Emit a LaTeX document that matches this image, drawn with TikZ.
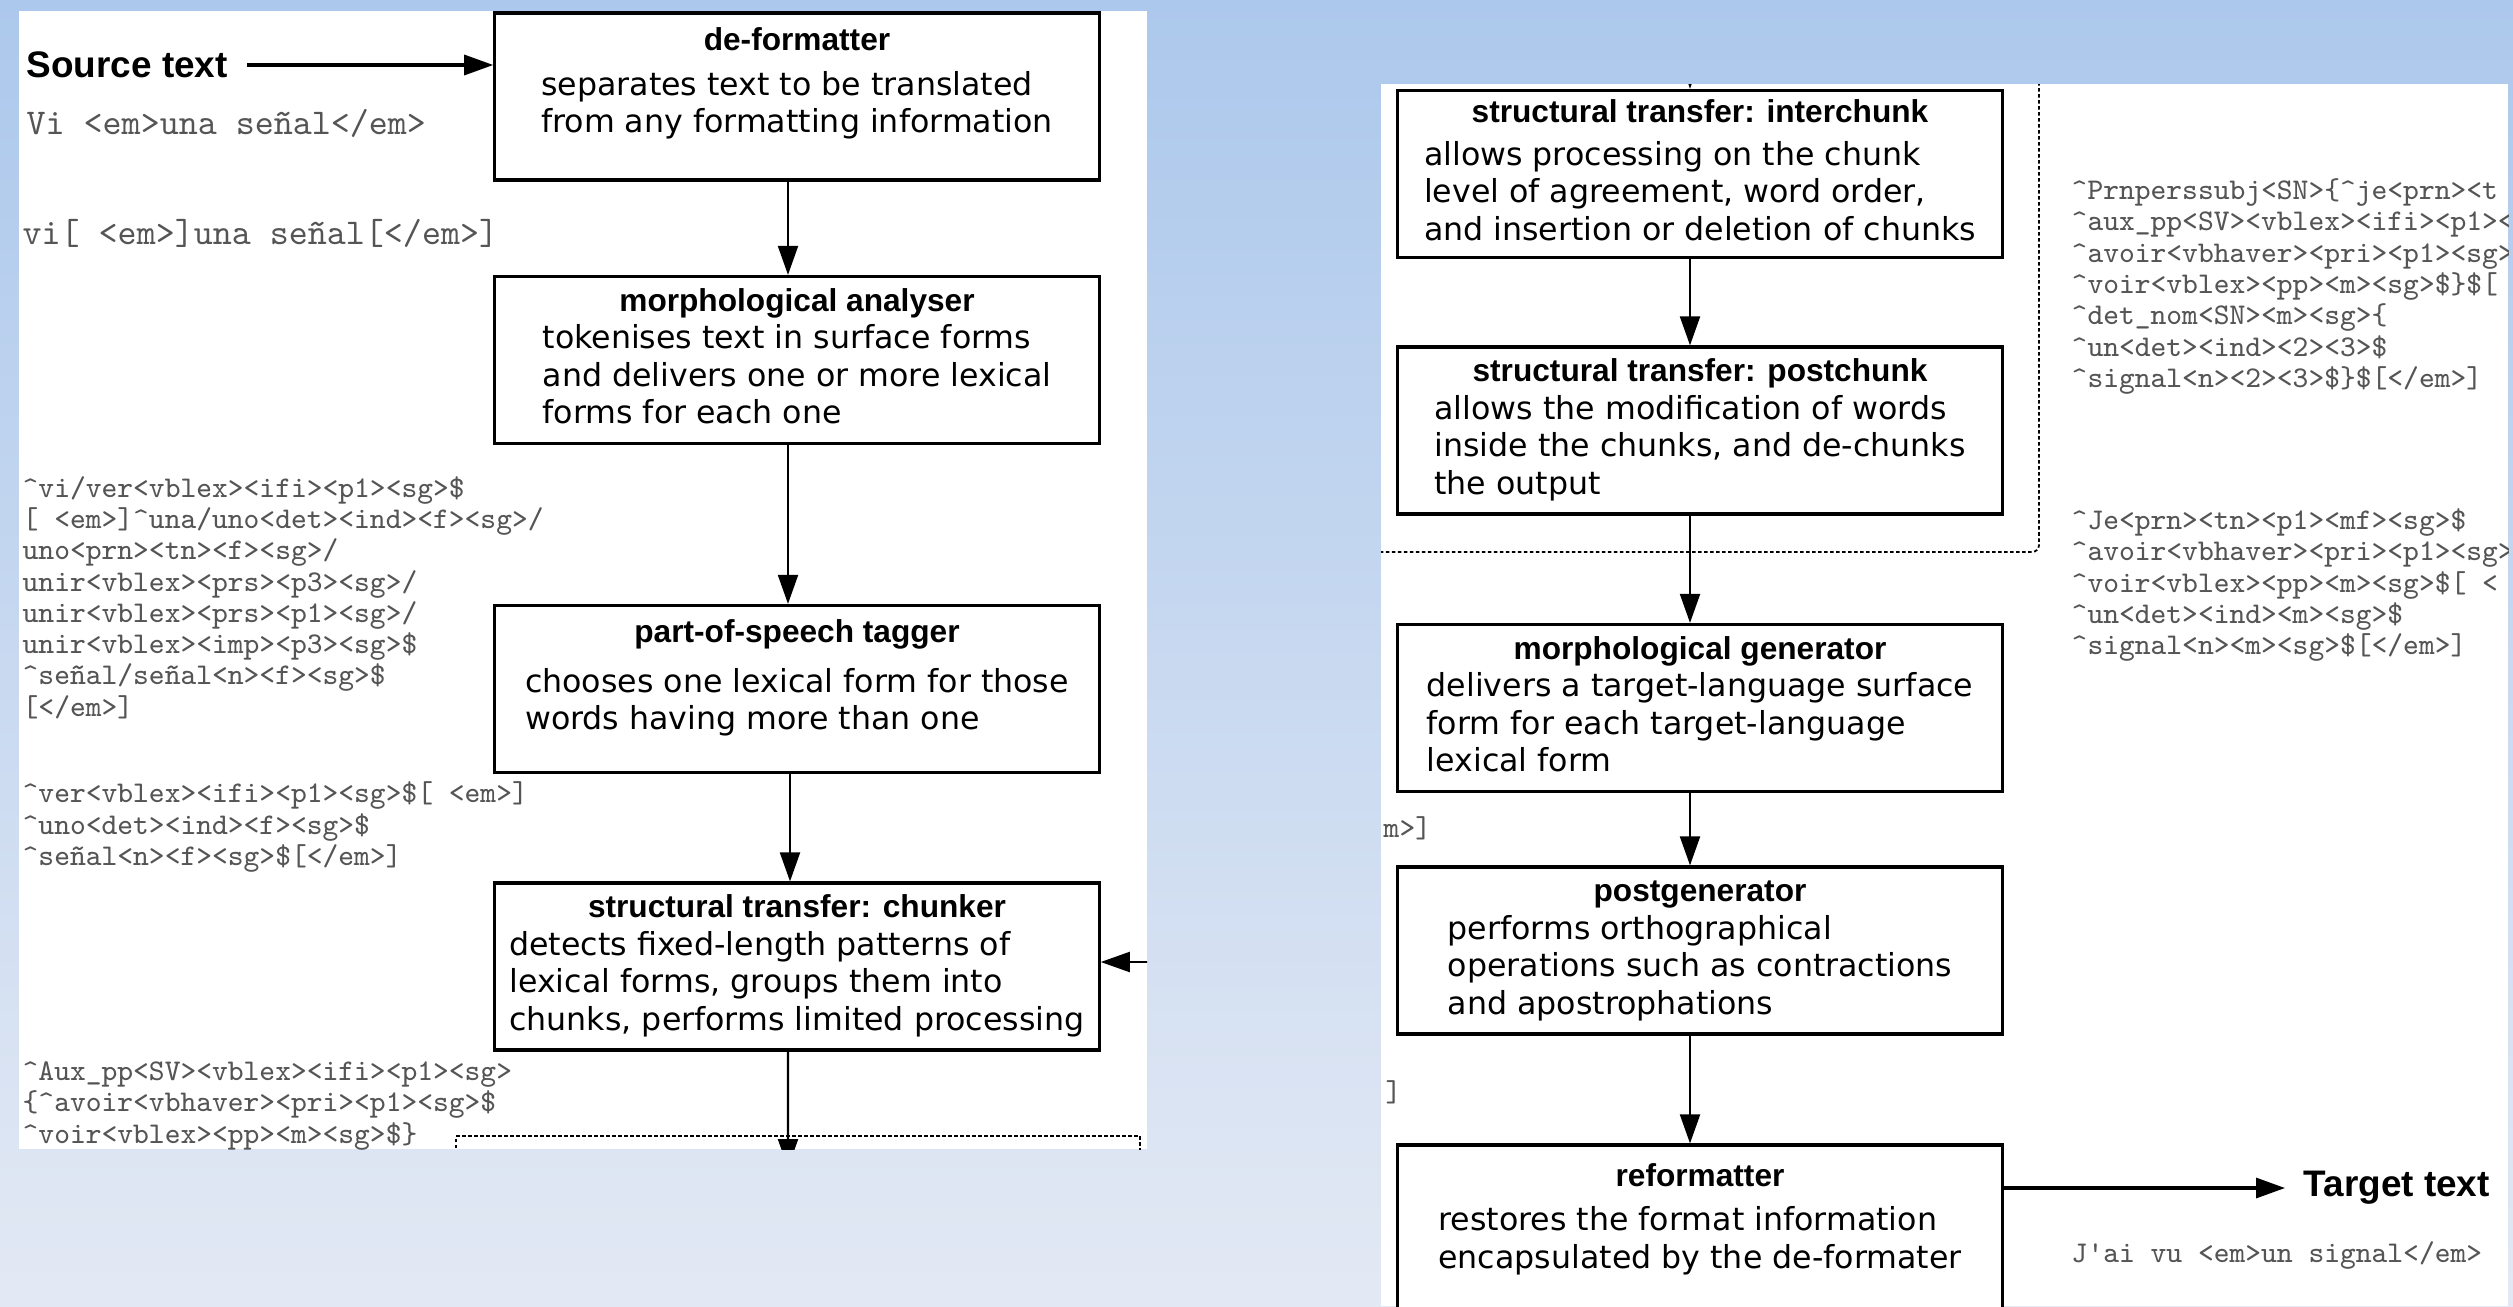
\documentclass[tikz,border=0pt]{standalone}
\usepackage{fontspec}
\setmainfont{DejaVu Sans}
\newfontfamily\titlefont{Liberation Sans}
\usetikzlibrary{arrows.meta}
\definecolor{bgtop}{RGB}{172,200,236}
\definecolor{bgbottom}{RGB}{227,233,244}
\definecolor{codegray}{RGB}{85,85,85}
\tikzstyle{process} = [rectangle, minimum width=6.04cm, minimum height=1.67cm, draw=black, line width=0.9pt, fill=white, inner sep=0pt, font=\fontsize{9pt}{10.7pt}\selectfont]
\tikzstyle{arrow} = [line width=0.6pt, -{Triangle[length=0.29cm,width=0.2cm]}]
\tikzstyle{bigarrow} = [arrow, line width=0.9pt]
\tikzstyle{endtext} = [font=\titlefont\bfseries\fontsize{10.5pt}{12pt}\selectfont, inner xsep=0.18cm, inner ysep=0pt]
\tikzstyle{stream} = [anchor=west, inner sep=0pt, align=left, text=codegray, font=\ttfamily\fontsize{8.55pt}{8.9pt}\selectfont]
\tikzstyle{sample} = [stream, font=\ttfamily\fontsize{10.3pt}{12pt}\selectfont]
\tikzstyle{border} = [line width=0.5pt, dash pattern=on 0.035cm off 0.025cm]
\newcommand{\crt}{\textasciicircum}
\newcommand{\stagetext}[3][0pt]{\begin{tabular}{@{}l@{}}\multicolumn{1}{@{}c@{}}{\titlefont\bfseries #2}\\[#1]#3\end{tabular}}

\begin{document}
\begin{tikzpicture}[x=0.01cm, y=-0.01cm]
	\useasboundingbox (0,0) rectangle (2513,1306);
	\shade[top color=bgtop, bottom color=bgbottom] (0,0) rectangle (2513,1306);
	\fill[white] (19,11) rectangle (1147,1149);
	\fill[white] (1381,84) rectangle (2508,1306);
	
	% first half of the pipeline
	\begin{scope}
	\clip (19,11) rectangle (1147,1149);
	\node(srctext) [endtext, anchor=west] at (8,65) {Source text};
	\node(deformatter) [process] at (797,96.5) {\stagetext[2pt]{de-formatter}{separates text to be translated\\from any formatting information\\[7pt]}};
	\node(analyser) [process] at (797,360) {\stagetext{morphological analyser}{tokenises text in surface forms\\and delivers one or more lexical\\forms for each one}};
	\node(tagger) [process] at (797,689) {\stagetext[3.5pt]{part-of-speech tagger}{chooses one lexical form for those\\words having more than one\\[6pt]}};
	\node(chunker) [process] at (797,966.5) {\stagetext{structural transfer: chunker}{detects fixed-length patterns of\\lexical forms, groups them into\\chunks, performs limited processing}};
	\coordinate(chunkout) at (788,1168);
	\coordinate(chunkin) at (1170,962);
	
	\node(srcsample) [sample] at (26,123) {Vi <em>una señal</em>};
	\node(deformatted) [sample] at (22,233) {vi{[} <em>]una señal{[}</em>]};
	\node(analysed) [stream] at (22,597.5) {\crt{}vi/ver<vblex><ifi><p1><sg>\$\\
		{[} <em>]\crt{}una/uno<det><ind><f><sg>/\\
		uno<prn><tn><f><sg>/\\
		unir<vblex><prs><p3><sg>/\\
		unir<vblex><prs><p1><sg>/\\
		unir<vblex><imp><p3><sg>\$\\
		\crt{}señal/señal<n><f><sg>\$\\
		{[}</em>]};
	\node(tagged) [stream] at (22,827) {\crt{}ver<vblex><ifi><p1><sg>\${[} <em>]\\
		\crt{}uno<det><ind><f><sg>\$\\
		\crt{}señal<n><f><sg>\${[}</em>]};
	\node(chunked) [stream] at (22,1106) {\crt{}Aux\_pp<SV><vblex><ifi><p1><sg>\\
		\{\crt{}avoir<vbhaver><pri><p1><sg>\$\\
		\crt{}voir<vblex><pp><m><sg>\$\}};
	
	\draw[border] (456,1160) -- (456,1136) -- (1140,1136) -- (1140,1160);
	\draw[bigarrow] (srctext.east) -- (srctext.east -| deformatter.west);
	\draw[arrow] ([xshift=-0.09cm]deformatter.south) -- ([xshift=-0.09cm]analyser.north);
	\draw[arrow] ([xshift=-0.09cm]analyser.south) -- ([xshift=-0.09cm]tagger.north);
	\draw[arrow] ([xshift=-0.07cm]tagger.south) -- ([xshift=-0.07cm]chunker.north);
	\draw[arrow] ([xshift=-0.09cm]chunker.south) -- (chunkout);
	\draw[arrow] (chunkin) -- (chunkin -| chunker.east);
	\end{scope}
	
	% second half of the pipeline
	\begin{scope}
	\clip (1381,84) rectangle (2508,1306);
	\draw[border, rounded corners=2pt] (2039,70) |- (1370,552);
	\coordinate(chunkfeed) at (1690,60);
	\node(interchunk) [process] at (1700,174) {\stagetext[1.5pt]{structural transfer: interchunk}{allows processing on the chunk\\level of agreement, word order,\\and insertion or deletion of chunks}};
	\node(postchunk) [process] at (1700,430.5) {\stagetext{structural transfer: postchunk}{allows the modification of words\\inside the chunks, and de-chunks\\the output}};
	\node(morphgen) [process] at (1700,708) {\stagetext{morphological generator}{delivers a target-language surface\\form for each target-language\\lexical form}};
	\node(postgen) [process] at (1700,950.5) {\stagetext{postgenerator}{performs orthographical\\operations such as contractions\\and apostrophations}};
	\node(reformatter) [process] at (1700,1228.5) {\stagetext[2pt]{reformatter}{restores the format information\\encapsulated by the de-formater\\[5pt]}};
	\node(tgttext) [endtext, anchor=west] at (2285,1188) {Target text};
	
	\node(transferred) [stream] at (2071,286.5) {\crt{}Prnperssubj<SN>\{\crt{}je<prn><t\\
		\crt{}aux\_pp<SV><vblex><ifi><p1><\\
		\crt{}avoir<vbhaver><pri><p1><sg>\\
		\crt{}voir<vblex><pp><m><sg>\$\}\${[}\\
		\crt{}det\_nom<SN><m><sg>\{\\
		\crt{}un<det><ind><2><3>\$\\
		\crt{}signal<n><2><3>\$\}\${[}</em>]};
	\node(dechunked) [stream] at (2071,585) {\crt{}Je<prn><tn><p1><mf><sg>\$\\
		\crt{}avoir<vbhaver><pri><p1><sg>\\
		\crt{}voir<vblex><pp><m><sg>\${[} <\\
		\crt{}un<det><ind><m><sg>\$\\
		\crt{}signal<n><m><sg>\${[}</em>]};
	\node(cutmark) [stream] at (1383,828) {m>]};
	\node(cutbracket) [stream] at (1385,1092) {]};
	\node(tgtsample) [stream] at (2071,1255) {J\textquotesingle{}ai vu <em>un signal</em>};
	
	\draw[arrow] (chunkfeed) -- ([xshift=-0.1cm]interchunk.north);
	\draw[arrow] ([xshift=-0.1cm]interchunk.south) -- ([xshift=-0.1cm]postchunk.north);
	\draw[arrow] ([xshift=-0.1cm]postchunk.south) -- ([xshift=-0.1cm]morphgen.north);
	\draw[arrow] ([xshift=-0.1cm]morphgen.south) -- ([xshift=-0.1cm]postgen.north);
	\draw[arrow] ([xshift=-0.1cm]postgen.south) -- ([xshift=-0.1cm]reformatter.north);
	\draw[bigarrow] (reformatter.east |- tgttext.west) -- (tgttext.west);
	\end{scope}
\end{tikzpicture}
\end{document}
